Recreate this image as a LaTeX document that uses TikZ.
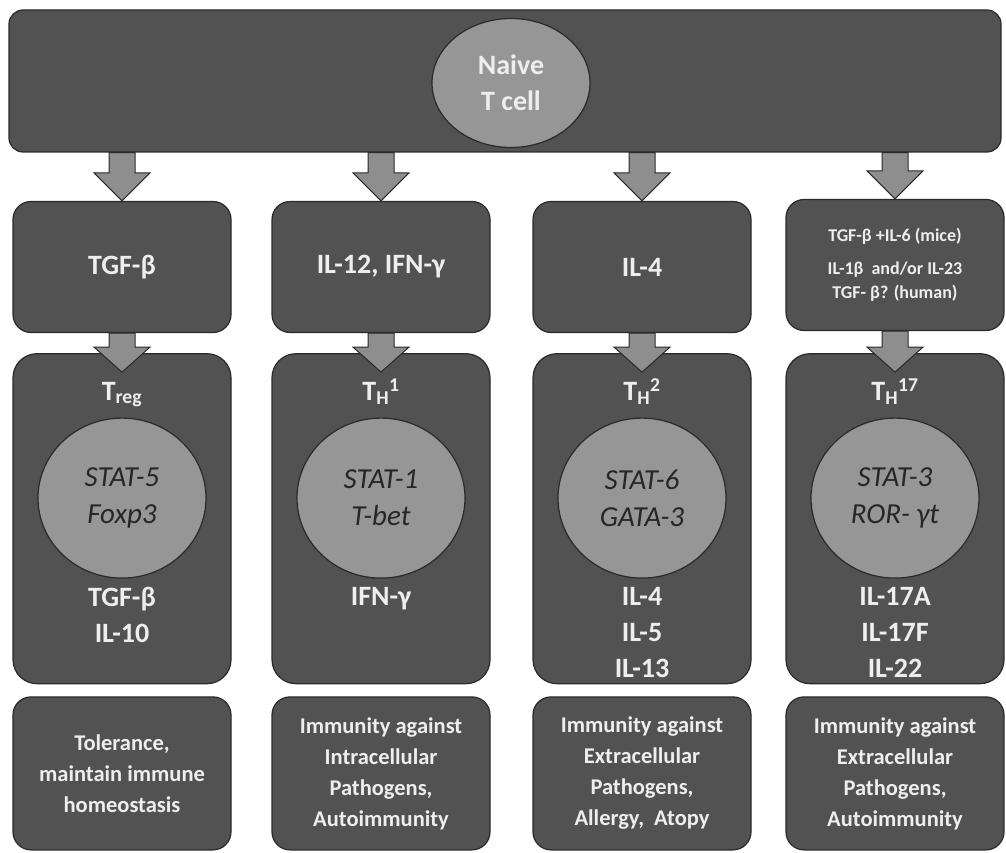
\documentclass[tikz,border=0pt]{standalone}
\usepackage{fontspec}
\setmainfont{Carlito}
\usepackage{tikz}
\usetikzlibrary{positioning,calc,shapes.geometric}
\definecolor{boxgray}{HTML}{525252}
\definecolor{edgegray}{HTML}{2A2A2A}
\definecolor{cellgray}{HTML}{969696}
\definecolor{arrowgray}{HTML}{8E8E8E}
\definecolor{txtwhite}{HTML}{EEEEEE}

% block arrow: tail point, tip point, head length
\newcommand{\fatarrow}[3]{%
  \draw[fat] let \p1=(#1), \p2=(#2) in
    (\x1-13pt,\y1) -- (\x2-13pt,\y2+#3) -- (\x2-28pt,\y2+#3) -- (\x2,\y2)
    -- (\x2+28pt,\y2+#3) -- (\x2+13pt,\y2+#3) -- (\x1+13pt,\y1) -- cycle;}

\begin{document}
\begin{tikzpicture}[x=1pt,y=-1pt,
  box/.style={draw=edgegray,line width=1.2pt,fill=boxgray,rounded corners=18pt,text=txtwhite,
    font=\bfseries\fontsize{28}{36}\selectfont,align=center,minimum width=218pt,inner sep=0pt},
  cyt/.style={box,minimum height=131pt},
  sub/.style={box,minimum height=330pt,rounded corners=24pt},
  role/.style={box,minimum height=153pt,font=\bfseries\fontsize{22.5}{31}\selectfont},
  cell/.style={ellipse,draw=edgegray,line width=1.2pt,fill=cellgray,inner sep=0pt,align=center},
  tf/.style={cell,minimum width=168pt,minimum height=160pt,text=black!85,
    font=\itshape\fontsize{29}{37}\selectfont},
  lbl/.style={text=txtwhite,font=\bfseries\fontsize{28}{36}\selectfont,align=center,inner sep=0pt},
  fat/.style={draw=edgegray,line width=1pt,fill=arrowgray}]
\useasboundingbox (0,0) rectangle (1006,853);

% naive cell
\node[box,minimum width=992pt,minimum height=142pt,rounded corners=14pt] (naive) at (505,81) {};
\node[cell,minimum width=158pt,minimum height=129pt,text=txtwhite,
  font=\bfseries\fontsize{28}{36}\selectfont] (tcell) at (511,83) {Naive\\T cell};

% polarising cytokines
\node[cyt] (c1) at (122,267) {TGF-β};
\node[cyt] (c2) at (381,267) {IL-12, IFN-γ};
\node[cyt] (c3) at (642,267) {IL-4};
\node[cyt,font=\bfseries\fontsize{18}{24}\selectfont] (c4) at (895,265)
  {TGF-β +IL-6 (mice)\\[9pt]IL-1β~ and/or IL-23\\TGF- β? (human)};

% subsets
\node[sub,below=20pt of c1] (s1) {};
\node[sub,below=20pt of c2] (s2) {};
\node[sub,below=20pt of c3] (s3) {};
\node[sub,below=22pt of c4] (s4) {};

\node[lbl,anchor=base] (n1) at ([yshift=-47pt]s1.north) {T\textsubscript{reg}};
\node[lbl,anchor=base] (n2) at ([yshift=-47pt]s2.north) {T\textsubscript{H}\textsuperscript{1}};
\node[lbl,anchor=base] (n3) at ([yshift=-47pt]s3.north) {T\textsubscript{H}\textsuperscript{2}};
\node[lbl,anchor=base] (n4) at ([yshift=-47pt]s4.north) {T\textsubscript{H}\textsuperscript{17}};

\node[tf] (f1) at ([yshift=-145pt]s1.north) {STAT-5\\Foxp3};
\node[tf] (f2) at ([yshift=-145pt]s2.north) {STAT-1\\T-bet};
\node[tf] (f3) at ([yshift=-145pt]s3.north) {STAT-6\\GATA-3};
\node[tf] (f4) at ([yshift=-145pt]s4.north) {STAT-3\\ROR- γt};

\node[lbl,anchor=north] (o1) at ([yshift=-234pt]s1.north) {TGF-β\\IL-10};
\node[lbl,anchor=north] (o2) at ([yshift=-234pt]s2.north) {IFN-γ};
\node[lbl,anchor=north] (o3) at ([yshift=-234pt]s3.north) {IL-4\\IL-5\\IL-13};
\node[lbl,anchor=north] (o4) at ([yshift=-234pt]s4.north) {IL-17A\\IL-17F\\IL-22};

% functions
\node[role,below=12pt of s1] (r1) {Tolerance,\\maintain immune\\homeostasis};
\node[role,below=12pt of s2] (r2) {Immunity against\\Intracellular\\Pathogens,\\Autoimmunity};
\node[role,below=12pt of s3] (r3) {Immunity against\\Extracellular\\Pathogens,\\Allergy,~ Atopy};
\node[role,below=12pt of s4] (r4) {Immunity against\\Extracellular\\Pathogens,\\Autoimmunity};

% arrows
\fatarrow{naive.south -| c1.north}{c1.north}{28pt}
\fatarrow{naive.south -| c2.north}{c2.north}{28pt}
\fatarrow{naive.south -| c3.north}{c3.north}{28pt}
\fatarrow{naive.south -| c4.north}{c4.north}{28pt}
\fatarrow{c1.south}{$(s1.north)+(0,19)$}{25pt}
\fatarrow{c2.south}{$(s2.north)+(0,19)$}{25pt}
\fatarrow{c3.south}{$(s3.north)+(0,19)$}{25pt}
\fatarrow{c4.south}{$(s4.north)+(0,19)$}{25pt}
\end{tikzpicture}
\end{document}
